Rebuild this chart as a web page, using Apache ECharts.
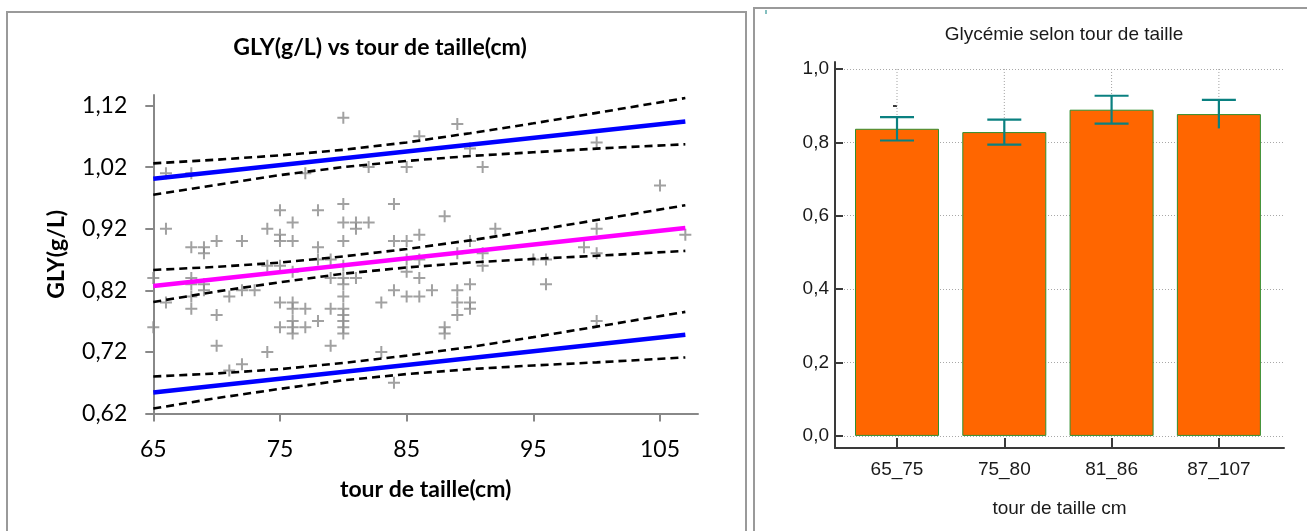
<!DOCTYPE html>
<html>
<head>
<meta charset="utf-8">
<script src="https://cdn.jsdelivr.net/npm/echarts@6/dist/echarts.min.js"></script>
<style>
  html, body { margin: 0; padding: 0; background: #fff; }
  #c { width: 1307px; height: 531px; }
</style>
</head>
<body>
<div id="c"></div>
<script>
// Waist circumference (cm) and blood glucose (g/L) of each subject
const waist = [
  65, 65,
  66, 66, 66,
  68, 68, 68, 68, 68, 68,
  69, 69, 69, 69,
  70, 70, 70,
  71, 71,
  72, 72, 72,
  73,
  74, 74, 74,
  75, 75, 75, 75, 75, 75,
  76, 76, 76, 76, 76, 76, 76, 76,
  77, 77, 77,
  78, 78, 78, 78,
  79, 79, 79, 79,
  80, 80, 80, 80, 80, 80, 80, 80, 80, 80, 80, 80, 80,
  81, 81, 81,
  82, 82,
  83, 83,
  84, 84, 84, 84,
  85, 85, 85, 85, 85,
  86, 86, 86, 86, 86,
  87,
  88, 88, 88,
  89, 89, 89, 89, 89,
  90, 90, 90, 90, 90,
  91, 91, 91,
  92,
  95,
  96, 96,
  99,
  100, 100, 100, 100,
  105,
  107
];
const gly = [
  0.84, 0.76,
  1.01, 0.92, 0.80,
  1.01, 0.89, 0.84, 0.83, 0.81, 0.79,
  0.89, 0.88, 0.83, 0.82,
  0.90, 0.78, 0.73,
  0.81, 0.69,
  0.90, 0.82, 0.70,
  0.82,
  0.92, 0.86, 0.72,
  0.95, 0.91, 0.90, 0.86, 0.80, 0.76,
  0.93, 0.90, 0.85, 0.80, 0.79, 0.77, 0.76, 0.75,
  1.01, 0.79, 0.76,
  0.95, 0.89, 0.87, 0.77,
  0.87, 0.84, 0.79, 0.73,
  1.10, 0.96, 0.93, 0.90, 0.86, 0.84, 0.83, 0.81, 0.79, 0.78, 0.77, 0.76, 0.75,
  0.93, 0.92, 0.84,
  1.02, 0.93,
  0.80, 0.72,
  0.96, 0.90, 0.82, 0.67,
  1.02, 0.90, 0.87, 0.85, 0.81,
  1.07, 0.91, 0.87, 0.84, 0.81,
  0.82,
  0.94, 0.76, 0.75,
  1.09, 0.88, 0.82, 0.80, 0.78,
  1.05, 0.90, 0.83, 0.80, 0.79,
  1.02, 0.88, 0.86,
  0.92,
  0.87,
  0.87, 0.83,
  0.89,
  1.06, 0.92, 0.88, 0.77,
  0.99,
  0.91
];

// Regression line and prediction limits (end points)
const lineX     = [65, 107];
const fitLine   = [0.827, 0.921];
const predUpper = [1.001, 1.094];
const predLower = [0.654, 0.748];

// Confidence bands drawn around each of the three lines
const bandX         = [65, 70, 75, 80, 85, 90, 95, 100, 107];
const fitHigh       = [0.853, 0.858, 0.865, 0.875, 0.887, 0.901, 0.917, 0.934, 0.958];
const fitLow        = [0.801, 0.818, 0.833, 0.847, 0.857, 0.865, 0.871, 0.876, 0.884];
const predUpperHigh = [1.026, 1.032, 1.039, 1.048, 1.060, 1.075, 1.091, 1.108, 1.132];
const predUpperLow  = [0.975, 0.991, 1.007, 1.020, 1.030, 1.038, 1.044, 1.050, 1.057];
const predLowerHigh = [0.680, 0.685, 0.692, 0.702, 0.714, 0.728, 0.744, 0.761, 0.785];
const predLowerLow  = [0.628, 0.645, 0.660, 0.674, 0.684, 0.692, 0.698, 0.703, 0.711];

// Axis ticks of the scatter plot
const scatterXTicks = [65, 75, 85, 95, 105];
const scatterYTicks = [0.62, 0.72, 0.82, 0.92, 1.02, 1.12];

// Mean glucose per waist group, with error bar limits
const groups    = ['65_75', '75_80', '81_86', '87_107'];
const meanGly   = [0.837, 0.828, 0.889, 0.877];
const errLow    = [0.805, 0.794, 0.851, 0.838];
const errHigh   = [0.869, 0.862, 0.927, 0.916];
const lowerCap  = [true, true, true, false];
const barYTicks = [0, 0.2, 0.4, 0.6, 0.8, 1.0];
const barYMinor = [0.1, 0.3, 0.5, 0.7, 0.9];
const guideTop  = 1.0;

const pair = (xs, ys) => xs.map((x, i) => [x, ys[i]]);
const comma = (v, d) => v.toFixed(d).replace('.', ',');

const leftFont = 'Lato, "Liberation Sans", sans-serif';
const rightFont = '"Liberation Sans", Arial, sans-serif';
const rightSize = 19;
const axisGray = '#888888';

function dashed(name, ys) {
  return {
    name, type: 'line', xAxisIndex: 0, yAxisIndex: 0,
    data: pair(bandX, ys), showSymbol: false, smooth: false, silent: true,
    lineStyle: { color: '#000', width: 2.6, type: [8, 5] }, z: 4
  };
}
function solid(name, ys, color) {
  return {
    name, type: 'line', xAxisIndex: 0, yAxisIndex: 0,
    data: pair(lineX, ys), showSymbol: false, silent: true,
    lineStyle: { color, width: 4.5 }, z: 5
  };
}

const chart = echarts.init(document.getElementById('c'), null, { renderer: 'canvas', width: 1307, height: 531 });

chart.setOption({
  animation: false,
  backgroundColor: '#fff',
  graphic: [
    { type: 'rect', silent: true, shape: { x: 7, y: 12, width: 739, height: 540 },
      style: { fill: 'none', stroke: '#9a9a9a', lineWidth: 2 } },
    { type: 'rect', silent: true, shape: { x: 754, y: 8, width: 580, height: 540 },
      style: { fill: 'none', stroke: '#9a9a9a', lineWidth: 2 } },
    { type: 'line', silent: true, shape: { x1: 766, y1: 10, x2: 766, y2: 14 },
      style: { stroke: '#0a8080', lineWidth: 1 } }
  ],
  title: [
    { text: 'GLY(g/L) vs tour de taille(cm)', left: 375, top: 31, textAlign: 'center',
      textStyle: { fontFamily: leftFont, fontWeight: 'bold', fontSize: 23, color: '#000' } },
    { text: 'Glycémie selon tour de taille', left: 1059, top: 20, textAlign: 'center',
      textStyle: { fontFamily: rightFont, fontWeight: 'normal', fontSize: rightSize, color: '#1a1a1a' } }
  ],
  grid: [
    { left: 153.3, top: 95, width: 544.7, height: 318.5 },
    { left: 835, top: 62, width: 449, height: 386 }
  ],
  xAxis: [
    {
      type: 'value', gridIndex: 0, min: 65, max: 108,
      name: 'tour de taille(cm)', nameLocation: 'middle', nameGap: 65,
      nameTextStyle: { fontFamily: leftFont, fontWeight: 'bold', fontSize: 23, color: '#000' },
      axisLine: { onZero: false, lineStyle: { color: axisGray, width: 2 } },
      axisTick: { customValues: scatterXTicks, length: 8, lineStyle: { color: axisGray, width: 2 } },
      axisLabel: { customValues: scatterXTicks, margin: 25, fontFamily: leftFont, fontSize: 23, color: '#000' },
      splitLine: { show: false }
    },
    {
      type: 'value', gridIndex: 1, min: -0.578, max: 3.607,
      name: 'tour de taille cm', nameLocation: 'middle', nameGap: 51,
      nameTextStyle: { fontFamily: rightFont, fontSize: rightSize, color: '#1a1a1a' },
      axisLine: { onZero: false, lineStyle: { color: '#3a3a3a', width: 2 } },
      axisTick: { customValues: [0, 1, 2, 3], inside: true, length: 10, lineStyle: { color: '#3a3a3a', width: 2 } },
      axisLabel: { customValues: [0, 1, 2, 3], margin: 12, fontFamily: rightFont, fontSize: rightSize, color: '#1a1a1a',
                   formatter: v => groups[Math.round(v)] },
      splitLine: { show: false }
    }
  ],
  yAxis: [
    {
      type: 'value', gridIndex: 0, min: 0.62, max: 1.137,
      name: 'GLY(g/L)', nameLocation: 'middle', nameGap: 85, nameRotate: 90,
      nameTextStyle: { fontFamily: leftFont, fontWeight: 'bold', fontSize: 23, color: '#000' },
      axisLine: { onZero: false, lineStyle: { color: axisGray, width: 2 } },
      axisTick: { customValues: scatterYTicks, length: 8, lineStyle: { color: axisGray, width: 2 } },
      axisLabel: { customValues: scatterYTicks, margin: 26, fontFamily: leftFont, fontSize: 23, color: '#000',
                   formatter: v => comma(v, 2) },
      splitLine: { show: false }
    },
    {
      type: 'value', gridIndex: 1, min: -0.033, max: 1.019,
      axisLine: { onZero: false, lineStyle: { color: '#3a3a3a', width: 2 } },
      axisTick: { customValues: barYTicks, inside: true, length: 8, lineStyle: { color: '#3a3a3a', width: 2 } },
      axisLabel: { customValues: barYTicks, margin: 6, fontFamily: rightFont, fontSize: rightSize, color: '#1a1a1a',
                   formatter: v => comma(v, 1) },
      splitLine: { show: true, lineStyle: { color: '#a8a8a8', width: 1, type: [1, 2] } }
    },
    {
      type: 'value', gridIndex: 1, min: -0.033, max: 1.019,
      axisLine: { show: false },
      axisTick: { customValues: barYMinor, inside: true, length: 4, lineStyle: { color: '#3a3a3a', width: 2 } },
      axisLabel: { show: false },
      splitLine: { show: false }
    }
  ],
  series: [
    {
      name: 'GLY', type: 'scatter', xAxisIndex: 0, yAxisIndex: 0,
      data: pair(waist, gly),
      symbol: 'path://M5,0H7V5H12V7H7V12H5V7H0V5H5Z', symbolSize: 12,
      itemStyle: { color: '#8a8a8a' }, z: 3
    },
    dashed('fit high', fitHigh),
    dashed('fit low', fitLow),
    dashed('upper high', predUpperHigh),
    dashed('upper low', predUpperLow),
    dashed('lower high', predLowerHigh),
    dashed('lower low', predLowerLow),
    solid('regression', fitLine, '#ff00ff'),
    solid('upper limit', predUpper, '#0000ff'),
    solid('lower limit', predLower, '#0000ff'),
    {
      // dotted vertical guides from the top gridline down to each bar
      name: 'guides', type: 'custom', xAxisIndex: 1, yAxisIndex: 1, z: 2, silent: true,
      data: meanGly.map((v, i) => [i, v]),
      renderItem: function (params, api) {
        const a = api.coord([api.value(0), guideTop]);
        const b = api.coord([api.value(0), api.value(1)]);
        return { type: 'line', shape: { x1: a[0], y1: a[1], x2: b[0], y2: b[1] },
                 style: { stroke: '#a0a0a0', lineWidth: 1, lineDash: [1, 2] } };
      }
    },
    {
      name: 'moyenne', type: 'bar', xAxisIndex: 1, yAxisIndex: 1,
      data: meanGly.map((v, i) => [i, v]), barWidth: 84,
      itemStyle: { color: '#ff6600', borderColor: '#2f8f2f', borderWidth: 1 }, z: 3
    },
    {
      name: 'erreur', type: 'custom', xAxisIndex: 1, yAxisIndex: 1, z: 6, silent: true,
      data: groups.map((g, i) => [i, errLow[i], errHigh[i], lowerCap[i] ? 1 : 0]),
      renderItem: function (params, api) {
        const x = api.value(0);
        const top = api.coord([x, api.value(2)]);
        const bot = api.coord([x, api.value(1)]);
        const half = 17;
        const st = { stroke: '#0a8080', lineWidth: 2.2 };
        const children = [
          { type: 'line', shape: { x1: top[0], y1: top[1], x2: bot[0], y2: bot[1] }, style: st },
          { type: 'line', shape: { x1: top[0] - half, y1: top[1], x2: top[0] + half, y2: top[1] }, style: st }
        ];
        if (api.value(3)) {
          children.push({ type: 'line', shape: { x1: bot[0] - half, y1: bot[1], x2: bot[0] + half, y2: bot[1] }, style: st });
        }
        return { type: 'group', children };
      }
    }
  ]
});
</script>
</body>
</html>
